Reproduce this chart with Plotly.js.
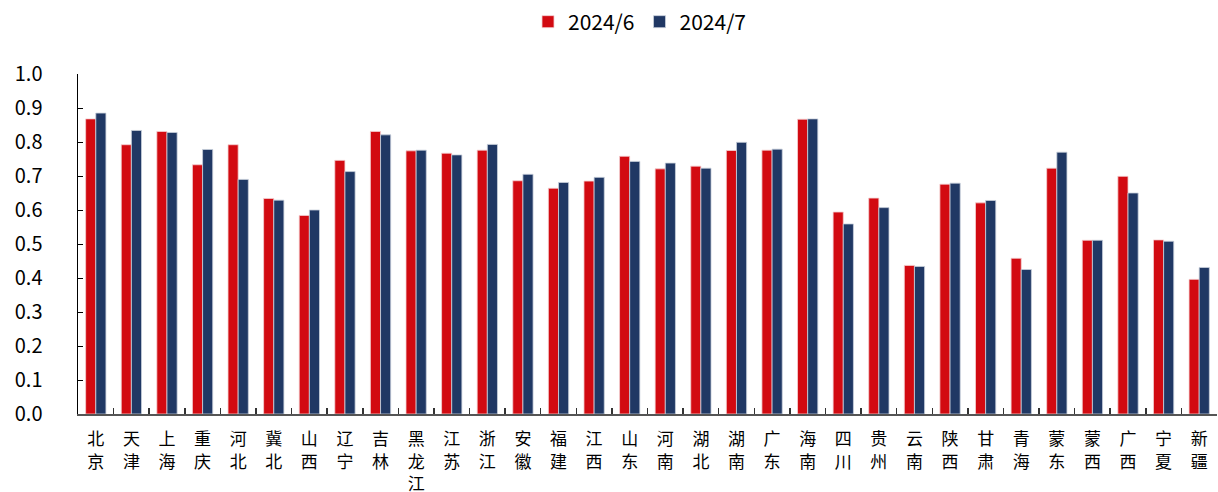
<!DOCTYPE html>
<html>
<head>
<meta charset="utf-8">
<script src="https://cdn.plot.ly/plotly-3.0.1.min.js"></script>
<style>html,body{margin:0;padding:0;background:#fff}#chart{width:1218px;height:492px}</style>
</head>
<body>
<div id="chart"></div>
<script>
const categories = ["北京","天津","上海","重庆","河北","冀北","山西","辽宁","吉林","黑龙江","江苏","浙江","安徽","福建","江西","山东","河南","湖北","湖南","广东","海南","四川","贵州","云南","陕西","甘肃","青海","蒙东","蒙西","广西","宁夏","新疆"];
const seriesNames = ["2024/6","2024/7"];
const jun = [0.868,0.792,0.831,0.733,0.792,0.634,0.584,0.746,0.831,0.774,0.767,0.776,0.686,0.664,0.685,0.758,0.721,0.729,0.775,0.776,0.867,0.594,0.635,0.437,0.676,0.621,0.458,0.723,0.511,0.699,0.512,0.396];
const jul = [0.885,0.834,0.828,0.778,0.690,0.629,0.600,0.713,0.821,0.776,0.762,0.793,0.705,0.681,0.696,0.743,0.738,0.723,0.799,0.779,0.868,0.559,0.607,0.434,0.679,0.628,0.425,0.770,0.511,0.650,0.508,0.431];
const yTicks = [0,0.1,0.2,0.3,0.4,0.5,0.6,0.7,0.8,0.9,1.0];

const catLabels = categories.map(c => c.split("").join("<br>"));
const font = "'Noto Sans CJK SC', 'Noto Sans', sans-serif";

const traces = [
  {type:"bar", name:seriesNames[0], x:categories, y:jun, marker:{color:"#D20A11", line:{color:"#f4d0d2", width:0.8}}},
  {type:"bar", name:seriesNames[1], x:categories, y:jul, marker:{color:"#203864", line:{color:"#c9d0dc", width:0.8}}}
];

const layout = {
  width:1218, height:492,
  margin:{l:78, r:1, t:74, b:78, autoexpand:false},
  paper_bgcolor:"#fff", plot_bgcolor:"#fff",
  barmode:"group", bargap:0.43, bargroupgap:0,
  font:{family:font, color:"#000"},
  showlegend:true,
  legend:{orientation:"h", x:640/1218, xref:"container", xanchor:"center", y:1-22/492, yref:"container", yanchor:"middle",
          font:{size:21, family:font}, itemwidth:30, traceorder:"normal", tracegroupgap:0},
  xaxis:{
    type:"category", tickmode:"array", tickvals:categories, ticktext:catLabels,
    showline:true, linecolor:"#555", linewidth:2,
    ticks:"inside", ticklen:6, tickcolor:"#333", tickwidth:1.5, tickson:"boundaries",
    tickfont:{size:17, family:font, color:"#000"}, tickangle:0, ticklabelstandoff:9,
    showgrid:false, zeroline:false, range:[-0.5, 31.5]
  },
  yaxis:{
    range:[0,1], tickvals:yTicks, tickformat:".1f",
    showline:true, linecolor:"#000", linewidth:1.5,
    ticks:"inside", ticklen:5, tickcolor:"#000",
    tickfont:{size:20, family:font, color:"#000"},
    ticklabelstandoff:30,
    showgrid:false, zeroline:false
  }
};

Plotly.newPlot("chart", traces, layout, {staticPlot:true, displayModeBar:false});
</script>
</body>
</html>
